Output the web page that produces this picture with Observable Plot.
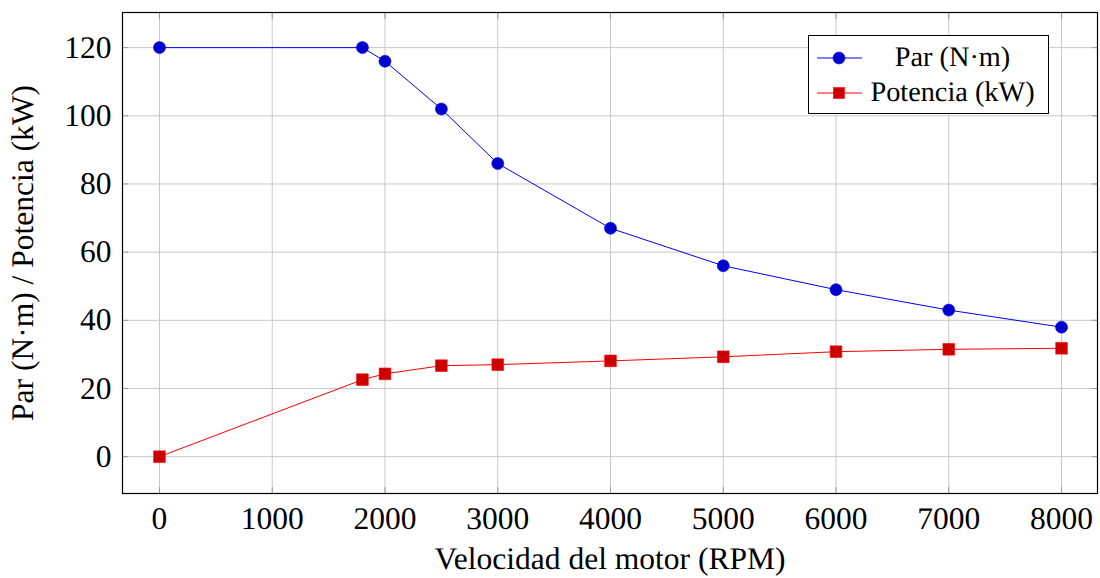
<!DOCTYPE html>
<html>
<head>
<meta charset="utf-8">
<script src="https://cdn.jsdelivr.net/npm/d3@7"></script>
<script src="https://cdn.jsdelivr.net/npm/@observablehq/plot@0.6"></script>
<style>
  html, body { margin: 0; padding: 0; background: #fff; text-rendering: geometricPrecision; }
  #wrap { position: relative; width: 1100px; height: 578px; font-family: 'Liberation Serif', serif; }
  #legend { position: absolute; left: 808px; top: 35px; width: 241px; height: 79px; box-sizing: border-box; border: 1px solid #000; background: #fff; font-family: 'Liberation Serif', serif; font-size: 28.3px; }
  #legend .row { position: absolute; left: 0; width: 239px; height: 34px; }
  #legend .sample { position: absolute; left: 0; top: 0; }
  #legend .lab { position: absolute; left: 48px; right: 0; top: 0; height: 34px; line-height: 34px; text-align: center; color: #000; white-space: nowrap; }
</style>
</head>
<body>
<div id="wrap"></div>
<script>
// Data
const speed = [0, 1800, 2000, 2500, 3000, 4000, 5000, 6000, 7000, 8000];
const torque = [120, 120, 116, 102, 86, 67, 56, 49, 43, 38];
const power = [0, 22.6, 24.3, 26.7, 27.0, 28.1, 29.3, 30.8, 31.5, 31.8];
const xTicks = [0, 1000, 2000, 3000, 4000, 5000, 6000, 7000, 8000];
const yTicks = [0, 20, 40, 60, 80, 100, 120];
const seriesNames = ["Par (N·m)", "Potencia (kW)"];
const xLabel = "Velocidad del motor (RPM)";
const yLabel = "Par (N·m) / Potencia (kW)";

const torqueData = speed.map((s, i) => ({x: s, y: torque[i]}));
const powerData = speed.map((s, i) => ({x: s, y: power[i]}));

const gridColor = "#c8c8c8";
const tickColor = "#9a9a9a";
const FONT = "'Liberation Serif', serif";

const chart = Plot.plot({
  width: 1100,
  height: 578,
  marginLeft: 122,
  marginRight: 3,
  marginTop: 12,
  marginBottom: 85,
  style: {fontFamily: FONT, fontSize: "31.5px", color: "#000", background: "#fff"},
  x: {domain: [-328, 8319]},
  y: {domain: [-10.8, 130.3]},
  marks: [
    Plot.gridX(xTicks, {stroke: gridColor, strokeOpacity: 1, strokeWidth: 1}),
    Plot.gridY(yTicks, {stroke: gridColor, strokeOpacity: 1, strokeWidth: 1}),
    Plot.axisX(xTicks, {anchor: "bottom", tickSize: -6, stroke: tickColor, tickFormat: () => "", label: null}),
    Plot.axisX(xTicks, {anchor: "top", tickSize: -6, stroke: tickColor, tickFormat: () => "", label: null}),
    Plot.axisY(yTicks, {anchor: "left", tickSize: -6, stroke: tickColor, tickFormat: () => "", label: null}),
    Plot.axisY(yTicks, {anchor: "right", tickSize: -6, stroke: tickColor, tickFormat: () => "", label: null}),
    Plot.axisX(xTicks, {anchor: "bottom", tickSize: 0, tickPadding: 13, tickFormat: d => String(d),
      label: xLabel, labelAnchor: "center", labelArrow: "none", labelOffset: 75}),
    Plot.axisY(yTicks, {anchor: "left", tickSize: 0, tickPadding: 11, tickFormat: d => String(d),
      label: yLabel, labelAnchor: "center", labelArrow: "none", labelOffset: 112}),
    Plot.frame({stroke: "#000", strokeWidth: 1.2}),
    Plot.line(torqueData, {x: "x", y: "y", stroke: "#0000ff", strokeWidth: 1}),
    Plot.dot(torqueData, {x: "x", y: "y", r: 6, fill: "#0000cc", stroke: "#0000ff", strokeWidth: 0.6}),
    Plot.line(powerData, {x: "x", y: "y", stroke: "#ff0000", strokeWidth: 1}),
    Plot.dot(powerData, {x: "x", y: "y", symbol: "square", r: 6.6, fill: "#cc0000", stroke: "#ff0000", strokeWidth: 0.6})
  ]
});

d3.select(chart).selectAll("text")
  .attr("font-family", "Liberation Serif")
  .style("font-family", FONT);

const wrap = document.getElementById("wrap");
wrap.appendChild(chart);

// Legend (HTML text, inline SVG samples)
const legend = document.createElement("div");
legend.id = "legend";
const colors = [["#0000ff", "#0000cc"], ["#ff0000", "#cc0000"]];
const rowsTop = [5, 39.5];
seriesNames.forEach((name, i) => {
  const row = document.createElement("div");
  row.className = "row";
  row.style.top = rowsTop[i] + "px";
  const mark = i === 0
    ? `<circle cx="30" cy="17" r="6" fill="${colors[i][1]}" stroke="${colors[i][0]}" stroke-width="0.6"/>`
    : `<rect x="24.5" y="11.5" width="11" height="11" fill="${colors[i][1]}" stroke="${colors[i][0]}" stroke-width="0.6"/>`;
  row.innerHTML = `<svg class="sample" width="60" height="34"><line x1="8" x2="53" y1="17" y2="17" stroke="${colors[i][0]}" stroke-width="1"/>${mark}</svg><div class="lab"></div>`;
  row.querySelector(".lab").textContent = name;
  legend.appendChild(row);
});
wrap.appendChild(legend);
</script>
</body>
</html>
